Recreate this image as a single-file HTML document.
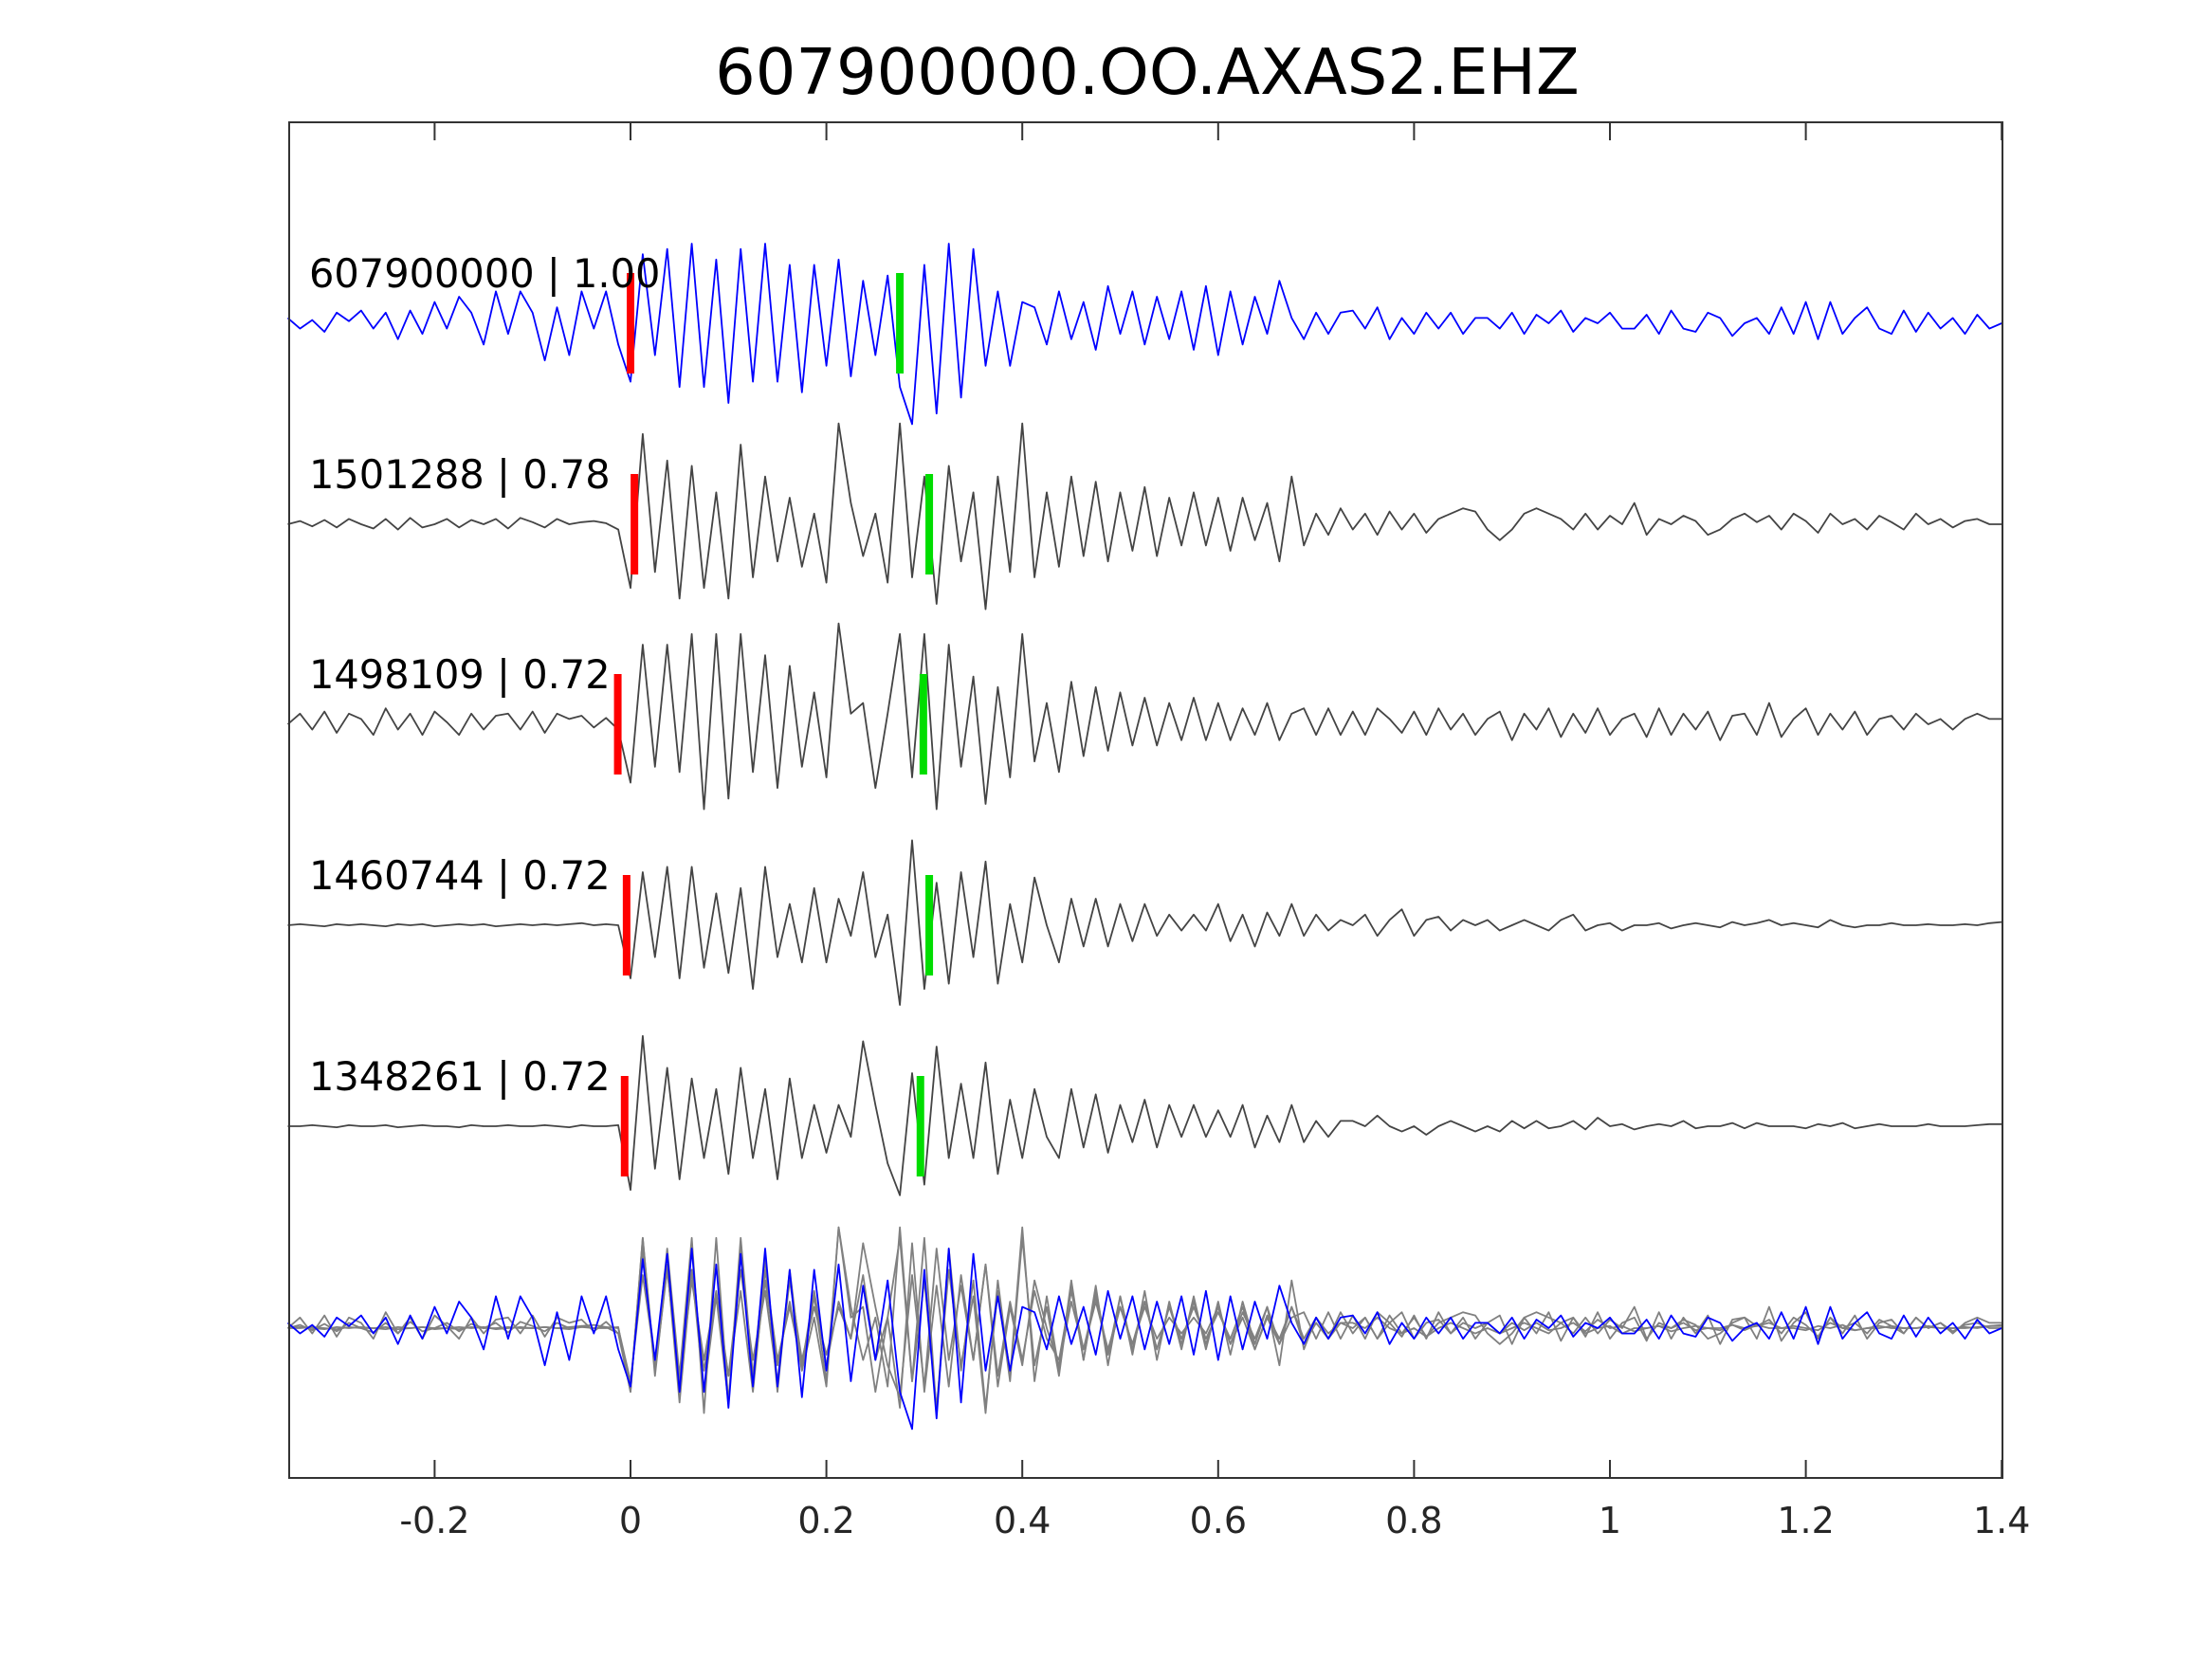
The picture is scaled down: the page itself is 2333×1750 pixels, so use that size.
<!DOCTYPE html>
<html><head><meta charset="utf-8">
<style>
html,body{margin:0;padding:0;background:#fff;}
svg{display:block;font-family:"DejaVu Sans","Liberation Sans",sans-serif;}
</style></head>
<body>
<svg id="chart" width="2333" height="1750" viewBox="0 0 2333 1750" xmlns="http://www.w3.org/2000/svg">
<rect x="0" y="0" width="2333" height="1750" fill="#fff"/>
<text x="1210" y="99" font-size="67" text-anchor="middle" fill="#000">607900000.OO.AXAS2.EHZ</text>
<g id="traces"></g>
<rect x="305" y="129" width="1807" height="1430" fill="none" stroke="#333" stroke-width="2"/>
<g id="ticks"></g>
</svg>
<script>
const tickValues=[-0.2,0,0.2,0.4,0.6,0.8,1,1.2,1.4];
const tickLabels=["-0.2","0","0.2","0.4","0.6","0.8","1","1.2","1.4"];
const traceLabels=["607900000 | 1.00","1501288 | 0.78","1498109 | 0.72","1460744 | 0.72","1348261 | 0.72"];
const pickP=[0,0.004,-0.013,-0.004,-0.006];
const pickS=[0.275,0.305,0.299,0.305,0.296];
const t0=-0.35, dt=0.0125;
const trace1=[0.05,-0.05,0.03,-0.08,0.1,0.02,0.12,-0.05,0.1,-0.15,0.12,-0.1,0.2,-0.05,0.25,0.1,-0.2,0.3,-0.1,0.3,0.1,-0.35,0.15,-0.3,0.3,-0.05,0.3,-0.2,
-0.55,0.65,-0.3,0.7,-0.6,0.75,-0.6,0.6,-0.75,0.7,-0.55,0.75,-0.55,0.55,-0.65,0.55,-0.4,0.6,-0.5,0.4,-0.3,0.45,-0.6,-0.95,0.55,-0.85,0.75,-0.7,0.7,-0.4,0.3,-0.4,0.2,0.15,-0.2,
0.3,-0.15,0.2,-0.25,0.35,-0.1,0.3,-0.2,0.25,-0.15,0.3,-0.25,0.35,-0.3,0.3,-0.2,0.25,-0.1,0.4,0.05,-0.15,0.1,
-0.1,0.1,0.12,-0.05,0.15,-0.15,0.05,-0.1,0.1,-0.05,0.1,-0.1,0.05,0.05,-0.05,0.1,-0.1,0.08,0.0,0.12,-0.08,0.05,0.0,0.1,-0.05,-0.05,0.08,-0.1,0.12,-0.05,-0.08,0.1,0.05,-0.12,0.0,0.05,-0.1,0.15,-0.1,0.2,-0.15,0.2,-0.1,0.05,0.15,-0.05,-0.1,0.12,-0.08,0.1,-0.05,0.05,-0.1,0.08,-0.05,0.0];
const trace2=[0,0.03,-0.02,0.04,-0.03,0.05,0.0,-0.04,0.05,-0.05,0.06,-0.03,0.0,0.05,-0.03,0.04,0.0,0.05,-0.04,0.06,0.02,-0.03,0.05,0.0,0.02,0.03,0.01,-0.05,
-0.6,0.85,-0.45,0.6,-0.7,0.55,-0.6,0.3,-0.7,0.75,-0.5,0.45,-0.35,0.25,-0.4,0.1,-0.55,0.95,0.2,-0.3,0.1,-0.55,0.95,-0.5,0.45,-0.75,0.55,-0.35,0.3,-0.8,0.45,-0.45,0.95,-0.5,0.3,
-0.4,0.45,-0.3,0.4,-0.35,0.3,-0.25,0.35,-0.3,0.25,-0.2,0.3,-0.2,0.25,-0.25,0.25,-0.15,0.2,-0.35,0.45,-0.2,0.1,
-0.1,0.15,-0.05,0.1,-0.1,0.12,-0.05,0.1,-0.08,0.05,0.1,0.15,0.12,-0.05,-0.15,-0.05,0.1,0.15,0.1,0.05,-0.05,0.1,-0.05,0.08,0.0,0.2,-0.1,0.05,0.0,0.08,0.03,-0.1,-0.05,0.05,0.1,0.02,0.08,-0.05,0.1,0.03,-0.08,0.1,0.0,0.05,-0.05,0.08,0.02,-0.05,0.1,0.0,0.05,-0.03,0.03,0.05,0.0,0.0];
const trace3=[0,0.1,-0.05,0.12,-0.08,0.1,0.05,-0.1,0.15,-0.05,0.1,-0.1,0.12,0.02,-0.1,0.1,-0.05,0.08,0.1,-0.05,0.12,-0.08,0.1,0.05,0.08,-0.03,0.06,-0.05,
-0.55,0.75,-0.4,0.75,-0.45,0.85,-0.8,0.85,-0.7,0.85,-0.45,0.65,-0.6,0.55,-0.4,0.3,-0.5,0.95,0.1,0.2,-0.6,0.1,0.85,-0.5,0.85,-0.8,0.75,-0.4,0.45,-0.75,0.35,-0.5,0.85,-0.35,0.2,
-0.45,0.4,-0.3,0.35,-0.25,0.3,-0.2,0.25,-0.2,0.2,-0.15,0.25,-0.15,0.2,-0.15,0.15,-0.1,0.2,-0.15,0.1,0.15,-0.1,
0.15,-0.1,0.12,-0.1,0.15,0.05,-0.08,0.12,-0.1,0.15,-0.05,0.1,-0.1,0.05,0.12,-0.15,0.1,-0.05,0.15,-0.12,0.1,-0.08,0.15,-0.1,0.05,0.1,-0.12,0.15,-0.1,0.1,-0.05,0.12,-0.15,0.08,0.1,-0.1,0.2,-0.12,0.05,0.15,-0.1,0.1,-0.05,0.12,-0.1,0.05,0.08,-0.05,0.1,0.0,0.05,-0.05,0.05,0.1,0.05,0.05];
const trace4=[0,0.01,0.0,-0.01,0.01,0.0,0.01,0.0,-0.01,0.01,0.0,0.01,-0.01,0.0,0.01,0.0,0.01,-0.01,0.0,0.01,0.0,0.01,0.0,0.01,0.02,0.0,0.01,0.0,
-0.5,0.5,-0.3,0.55,-0.5,0.55,-0.4,0.3,-0.45,0.35,-0.6,0.55,-0.3,0.2,-0.35,0.35,-0.35,0.25,-0.1,0.5,-0.3,0.1,-0.75,0.8,-0.6,0.4,-0.55,0.5,-0.3,0.6,-0.55,0.2,-0.35,0.45,0.0,
-0.35,0.25,-0.2,0.25,-0.2,0.2,-0.15,0.2,-0.1,0.1,-0.05,0.1,-0.05,0.2,-0.15,0.1,-0.2,0.12,-0.1,0.2,-0.1,0.1,
-0.05,0.05,0.0,0.1,-0.1,0.05,0.15,-0.1,0.05,0.08,-0.05,0.05,0.0,0.05,-0.05,0.0,0.05,0.0,-0.05,0.05,0.1,-0.05,0.0,0.02,-0.05,0.0,0.0,0.02,-0.03,0.0,0.02,0.0,-0.02,0.03,0.0,0.02,0.05,0.0,0.02,0.0,-0.02,0.05,0.0,-0.02,0.0,0.0,0.02,0.0,0.0,0.01,0.0,0.0,0.01,0.0,0.02,0.03];
const trace5=[0,0.0,0.01,0.0,-0.01,0.01,0.0,0.0,0.01,-0.01,0.0,0.01,0.0,0.0,-0.01,0.01,0.0,0.0,0.01,0.0,0.0,0.01,0.0,-0.01,0.01,0.0,0.0,0.01,
-0.6,0.85,-0.4,0.55,-0.5,0.45,-0.3,0.35,-0.45,0.55,-0.3,0.35,-0.5,0.45,-0.3,0.2,-0.25,0.2,-0.1,0.8,0.2,-0.35,-0.65,0.5,-0.55,0.75,-0.3,0.4,-0.3,0.6,-0.45,0.25,-0.3,0.35,-0.1,
-0.3,0.35,-0.2,0.3,-0.25,0.2,-0.15,0.25,-0.2,0.2,-0.1,0.2,-0.1,0.15,-0.1,0.2,-0.2,0.1,-0.15,0.2,-0.15,0.05,
-0.1,0.05,0.05,0.0,0.1,0.0,-0.05,0.0,-0.08,0.0,0.05,0.0,-0.05,0.0,-0.05,0.05,-0.02,0.05,-0.02,0.0,0.05,-0.03,0.08,0.0,0.02,-0.03,0.0,0.02,0.0,0.05,-0.02,0.0,0.0,0.03,-0.02,0.03,0.0,0.0,0.0,-0.02,0.02,0.0,0.03,-0.02,0.0,0.02,0.0,0.0,0.0,0.02,0.0,0.0,0.0,0.01,0.02,0.02];
const traces=[trace1,trace2,trace3,trace4,trace5];

const NS="http://www.w3.org/2000/svg";
const XL=305,XR=2112,YT=129,YB=1559;
function xs(t){return 665+t*1033;}
const baselines=[341,553,764,976,1188,1401];
const amp=112;
function ys(v,b){return b-v*amp;}
function pathFor(arr,b){
  let d="";
  for(let i=0;i<arr.length;i++){
    const t=t0+i*dt; if(t>1.4+1e-9)break;
    d+=(i?"L":"M")+xs(t).toFixed(1)+" "+ys(arr[i],b).toFixed(1);
  }
  return d;
}
const g=document.getElementById("traces");
function line(d,color,w){const p=document.createElementNS(NS,"path");p.setAttribute("d",d);p.setAttribute("fill","none");p.setAttribute("stroke",color);p.setAttribute("stroke-width",w);p.setAttribute("stroke-linejoin","round");g.appendChild(p);return p;}
traces.forEach((arr,k)=>{
  const p=line(pathFor(arr,baselines[k]),k===0?"#0000ff":"#444444",1.8);
  
  
});
traces.forEach((arr,k)=>{
  const r=document.createElementNS(NS,"rect");
  r.setAttribute("x",xs(pickP[k])-4);r.setAttribute("y",baselines[k]-53);r.setAttribute("width",8);r.setAttribute("height",106);r.setAttribute("fill","#ff0000");
  
  
  g.appendChild(r);
  const s=document.createElementNS(NS,"rect");
  s.setAttribute("x",xs(pickS[k])-4);s.setAttribute("y",baselines[k]-53);s.setAttribute("width",8);s.setAttribute("height",106);s.setAttribute("fill","#00dd00");
  
  
  g.appendChild(s);
  const tx=document.createElementNS(NS,"text");
  tx.setAttribute("x",326);tx.setAttribute("y",baselines[k]-38);tx.setAttribute("font-size","41.5");tx.setAttribute("fill","#000");
  tx.textContent=traceLabels[k];
  
  
  g.appendChild(tx);
});
for(let k=1;k<traces.length;k++){
  const p=line(pathFor(traces[k],baselines[5]),"#808080",1.8);
  
  
}
{
  const p=line(pathFor(traces[0],baselines[5]),"#0000ff",1.8);
  
  
}
const tg=document.getElementById("ticks");
tickValues.forEach((v,i)=>{
  const x=xs(v);
  const a=document.createElementNS(NS,"line");
  a.setAttribute("x1",x);a.setAttribute("x2",x);a.setAttribute("y1",YB);a.setAttribute("y2",YB-19);a.setAttribute("stroke","#333");a.setAttribute("stroke-width",2);
  
  
  tg.appendChild(a);
  const b=document.createElementNS(NS,"line");
  b.setAttribute("x1",x);b.setAttribute("x2",x);b.setAttribute("y1",YT);b.setAttribute("y2",YT+19);b.setAttribute("stroke","#333");b.setAttribute("stroke-width",2);
  
  
  tg.appendChild(b);
  const t=document.createElementNS(NS,"text");
  t.setAttribute("x",x);t.setAttribute("y",1617);t.setAttribute("font-size","38");t.setAttribute("text-anchor","middle");t.setAttribute("fill","#262626");
  t.textContent=tickLabels[i];
  
  
  tg.appendChild(t);
});
</script>
</body></html>
